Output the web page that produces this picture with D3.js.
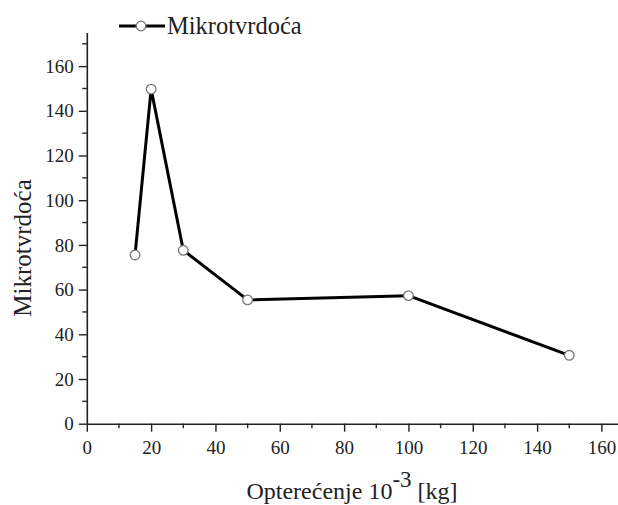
<!DOCTYPE html>
<html>
<head>
<meta charset="utf-8">
<script src="https://cdn.jsdelivr.net/npm/d3@7"></script>
<style>
  html, body { margin: 0; padding: 0; background: #fff; }
  svg, svg text { font-family: "Liberation Serif", "Times New Roman", serif !important; }
  svg { display: block; }
</style>
</head>
<body>
<svg id="chart" width="618" height="505"></svg>
<script>
// Load (10^-3 kg) and measured microhardness
const loads = [15, 20, 30, 50, 100, 150];
const hardness = [75.5, 149.7, 77.6, 55.4, 57.3, 30.6];
const seriesName = "Mikrotvrdoća";
const xTicks = [0, 20, 40, 60, 80, 100, 120, 140, 160];
const yTicks = [0, 20, 40, 60, 80, 100, 120, 140, 160];
const xMinor = d3.range(10, 161, 20);
const yMinor = d3.range(10, 171, 20);

const svg = d3.select("#chart");
const ink = "#222";

const x = d3.scaleLinear().domain([0, 165]).range([86.8, 617.5]);
const y = d3.scaleLinear().domain([0, 175]).range([423.7, 32.6]);

// Axes: major ticks labelled, minor ticks unlabelled, all outward
const gx = svg.append("g").attr("transform", `translate(0,${y(0)})`);
gx.call(d3.axisBottom(x).tickValues(xTicks).tickSize(8).tickPadding(5).tickSizeOuter(0));
gx.call(g => g.selectAll(".minor").data(xMinor).join("line").attr("class", "minor")
  .attr("x1", d => x(d)).attr("x2", d => x(d)).attr("y1", 0).attr("y2", 4.5));

const gy = svg.append("g").attr("transform", `translate(${x(0)},0)`);
gy.call(d3.axisLeft(y).tickValues(yTicks).tickSize(8).tickPadding(5).tickSizeOuter(0));
gy.call(g => g.selectAll(".minor").data(yMinor).join("line").attr("class", "minor")
  .attr("y1", d => y(d)).attr("y2", d => y(d)).attr("x1", 0).attr("x2", -4.5));

[gx, gy].forEach(g => {
  g.attr("font-family", null);
  g.select(".domain").attr("stroke", ink).attr("stroke-width", 1.6);
  g.selectAll("line").attr("stroke", ink).attr("stroke-width", 1.4);
  g.selectAll("text").attr("fill", ink).attr("font-size", 19);
});
gx.selectAll(".tick text").attr("dy", "0.9em");

// Axis titles
svg.append("text")
  .attr("transform", "translate(31,248) rotate(-90)")
  .attr("text-anchor", "middle")
  .attr("fill", ink).attr("font-size", 25)
  .text("Mikrotvrdoća");

const xt = svg.append("text")
  .attr("x", 352).attr("y", 499)
  .attr("text-anchor", "middle")
  .attr("fill", ink).attr("font-size", 24);
xt.append("tspan").text("Opterećenje 10");
xt.append("tspan").attr("dy", -12).attr("font-size", 23).text("-3");
xt.append("tspan").attr("dy", 12).text(" [kg]");

// Data line with open circle markers
const pts = loads.map((d, i) => [d, hardness[i]]);
svg.append("path")
  .datum(pts)
  .attr("fill", "none")
  .attr("stroke", "#000")
  .attr("stroke-width", 3)
  .attr("stroke-linejoin", "round")
  .attr("d", d3.line().x(d => x(d[0])).y(d => y(d[1])));

svg.selectAll(".pt").data(pts).join("circle").attr("class", "pt")
  .attr("cx", d => x(d[0])).attr("cy", d => y(d[1]))
  .attr("r", 4.8)
  .attr("fill", "#fff").attr("stroke", "#777").attr("stroke-width", 1.3);

// Legend
const lg = svg.append("g").attr("transform", "translate(119,26)");
lg.append("line").attr("x1", 0).attr("x2", 46).attr("y1", 0).attr("y2", 0)
  .attr("stroke", "#000").attr("stroke-width", 3);
lg.append("circle").attr("cx", 22).attr("cy", 0).attr("r", 4.8)
  .attr("fill", "#fff").attr("stroke", "#777").attr("stroke-width", 1.3);
lg.append("text").attr("x", 48).attr("y", 8)
  .attr("fill", ink).attr("font-size", 24.5).text(seriesName);
</script>
</body>
</html>
